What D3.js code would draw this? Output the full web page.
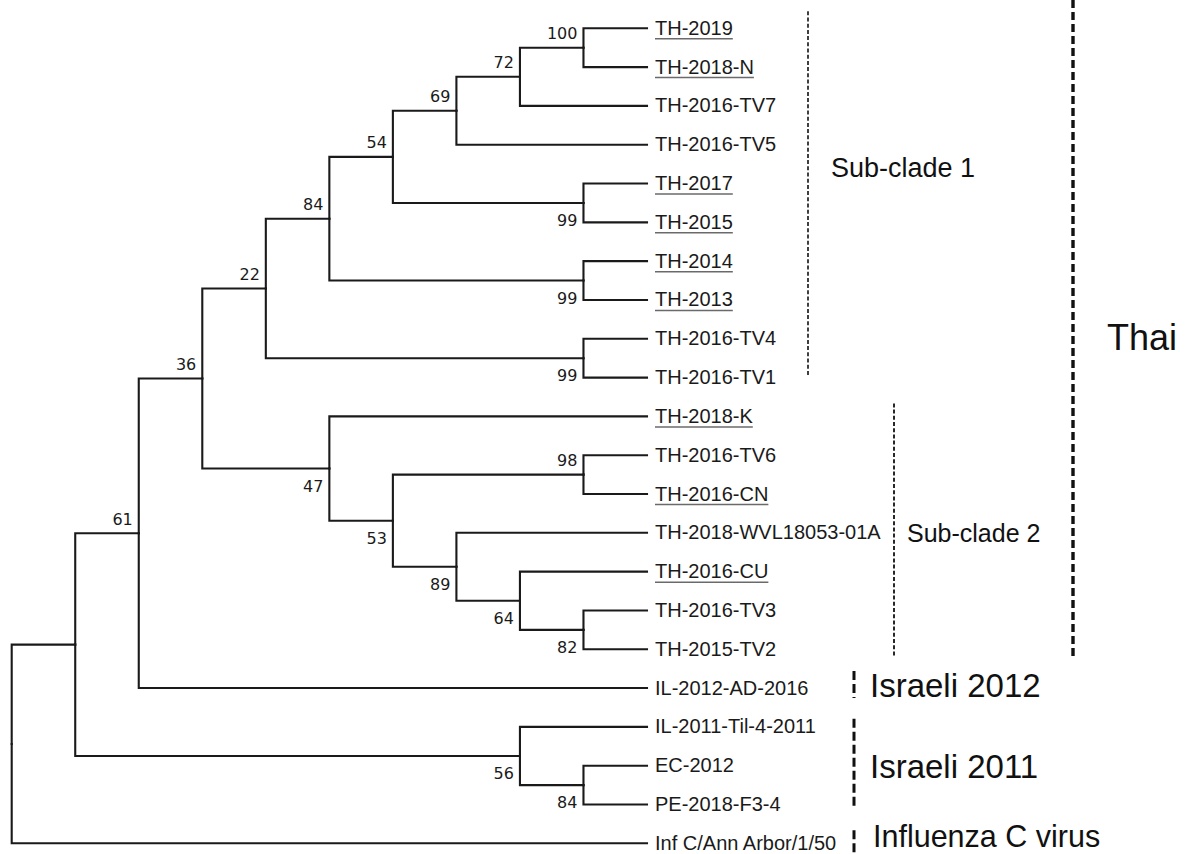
<!DOCTYPE html>
<html>
<head>
<meta charset="utf-8">
<script src="https://cdn.jsdelivr.net/npm/d3@7"></script>
<style>
  html, body { margin: 0; padding: 0; background: #ffffff; }
  svg { display: block; }
</style>
</head>
<body>
<script>
// ---------------- DATA ----------------
// Leaves, top to bottom
const leafNames = [
  "TH-2019", "TH-2018-N", "TH-2016-TV7", "TH-2016-TV5", "TH-2017", "TH-2015",
  "TH-2014", "TH-2013", "TH-2016-TV4", "TH-2016-TV1", "TH-2018-K", "TH-2016-TV6",
  "TH-2016-CN", "TH-2018-WVL18053-01A", "TH-2016-CU", "TH-2016-TV3", "TH-2015-TV2",
  "IL-2012-AD-2016", "IL-2011-Til-4-2011", "EC-2012", "PE-2018-F3-4", "Inf C/Ann Arbor/1/50"
];
const leafParents = [
  "n100", "n100", "n72", "n69", "n99a", "n99a", "n99b", "n99b", "n99c", "n99c", "n47", "n98",
  "n98", "n89", "n64", "n82", "n82", "n61", "n56", "n84b", "n84b", "root"
];
const underlinedLeaves = [
  "TH-2019", "TH-2018-N", "TH-2017", "TH-2015", "TH-2014", "TH-2013",
  "TH-2018-K", "TH-2016-CN", "TH-2016-CU"
];
// Internal nodes
const nodeIds     = ["root", "n0", "n61", "n36", "n22", "n84", "n54", "n69", "n72", "n100", "n99a", "n99b", "n99c", "n47", "n53", "n98", "n89", "n64", "n82", "n56", "n84b"];
const nodeParents = ["",     "root", "n0", "n61", "n36", "n22", "n84", "n54", "n69", "n72", "n54", "n84", "n22", "n36", "n47", "n53", "n53", "n89", "n64", "n0", "n56"];
const bootstrap   = [null,   null,  61,    36,    22,    84,    54,    69,    72,    100,    99,     99,     99,     47,    53,    98,    89,    64,    82,    56,    84];

// Clade annotations (first leaf index, last leaf index)
const groupNames = ["Sub-clade 1", "Sub-clade 2", "Thai", "Israeli 2012", "Israeli 2011", "Influenza C virus"];
const groupFirst = [0, 10, 0, 17, 18, 21];
const groupLast  = [9, 16, 16, 17, 20, 21];

// ---------------- STYLE / LAYOUT ----------------
const W = 1188, H = 854;
const ink = "#1a1a1a";
const groupStyle = [
  { lineX: 808, padTop: 17, padBot: -2, sw: 1.6, dash: "4,2.2", textX: 831, textY: 177, size: 27 },
  { lineX: 894, padTop: 13, padBot: 7,  sw: 1.8, dash: "4,2.2", textX: 907, textY: 542, size: 25 },
  { lineX: 1073, padTop: 30, padBot: 7, sw: 3.4, dash: "8,4",   textX: 1107, textY: 350, size: 36 },
  { lineX: 854, padTop: 17, padBot: 10, sw: 3,   dash: "9,4",   textX: 870, textY: 697, size: 33 },
  { lineX: 854, padTop: 8,  padBot: 2,  sw: 3,   dash: "9,4",   textX: 870, textY: 778, size: 33 },
  { lineX: 854, padTop: 13, padBot: 12, sw: 3,   dash: "9,4",   textX: 873, textY: 847, size: 30.5 }
];

// ---------------- BUILD TREE ----------------
const table = [];
nodeIds.forEach((id, i) => table.push({ id, parent: nodeParents[i] || null, boot: bootstrap[i], leaf: false }));
leafNames.forEach((name, i) => table.push({ id: name, parent: leafParents[i], boot: null, leaf: true, order: i }));

const root = d3.stratify().id(d => d.id).parentId(d => d.parent)(table);
root.eachAfter(n => {
  if (n.children) n.data.order = d3.min(n.children, c => c.data.order);
});
root.sort((a, b) => a.data.order - b.data.order);

const nLeaves = leafNames.length;
const cluster = d3.cluster().size([nLeaves, 10]).separation(() => 1);
cluster(root);

const yScale = d3.scaleLinear().domain([0.5, nLeaves - 0.5]).range([28.3, 843.3]);
const xScale = d3.scaleLinear().domain([0, 10]).range([11.7, 647]);
const leafY = i => yScale(i + 0.5);

const svg = d3.select("body").append("svg").attr("width", W).attr("height", H);

// Branches
svg.append("g")
  .selectAll("path")
  .data(root.descendants().filter(d => d.parent))
  .join("path")
  .attr("d", d => `M${xScale(d.parent.y)},${yScale(d.parent.x)}V${yScale(d.x)}H${xScale(d.y)}`)
  .attr("fill", "none")
  .attr("stroke", ink)
  .attr("stroke-width", 2.1)
  .attr("stroke-linecap", "square")
  .attr("stroke-linejoin", "miter");

// Bootstrap values
svg.append("g")
  .selectAll("text")
  .data(root.descendants().filter(d => d.data.boot != null))
  .join("text")
  .attr("x", d => xScale(d.y) - 6)
  .attr("y", d => {
    const upper = d.parent && d.parent.children[0] === d;
    return upper ? yScale(d.x) - 8.5 : yScale(d.x) + 23;
  })
  .attr("text-anchor", "end")
  .attr("font-family", "'DejaVu Sans', Verdana, sans-serif")
  .attr("font-size", 16)
  .attr("fill", ink)
  .text(d => d.data.boot);

// Leaf labels
const leafG = svg.append("g");
root.leaves().forEach(d => {
  const x = xScale(d.y) + 8, y = yScale(d.x);
  const t = leafG.append("text")
    .attr("x", x)
    .attr("y", y + 6.5)
    .attr("font-family", "'Liberation Sans', Arial, sans-serif")
    .attr("font-size", 20)
    .attr("fill", ink)
    .text(d.data.id);
  if (underlinedLeaves.includes(d.data.id)) {
    const len = t.node().getComputedTextLength();
    leafG.append("line")
      .attr("x1", x).attr("x2", x + len)
      .attr("y1", y + 10.5).attr("y2", y + 10.5)
      .attr("stroke", "#6a6a6a")
      .attr("stroke-width", 1.5);
  }
});

// Clade annotations
const annG = svg.append("g");
groupNames.forEach((name, i) => {
  const s = groupStyle[i];
  annG.append("line")
    .attr("x1", s.lineX).attr("x2", s.lineX)
    .attr("y1", Math.max(0, leafY(groupFirst[i]) - s.padTop))
    .attr("y2", Math.min(H, leafY(groupLast[i]) + s.padBot))
    .attr("stroke", "#111")
    .attr("stroke-width", s.sw)
    .attr("stroke-dasharray", s.dash);
  annG.append("text")
    .attr("x", s.textX)
    .attr("y", s.textY)
    .attr("font-family", "'Liberation Sans', Arial, sans-serif")
    .attr("font-size", s.size)
    .attr("fill", "#111")
    .text(name);
});
</script>
</body>
</html>
